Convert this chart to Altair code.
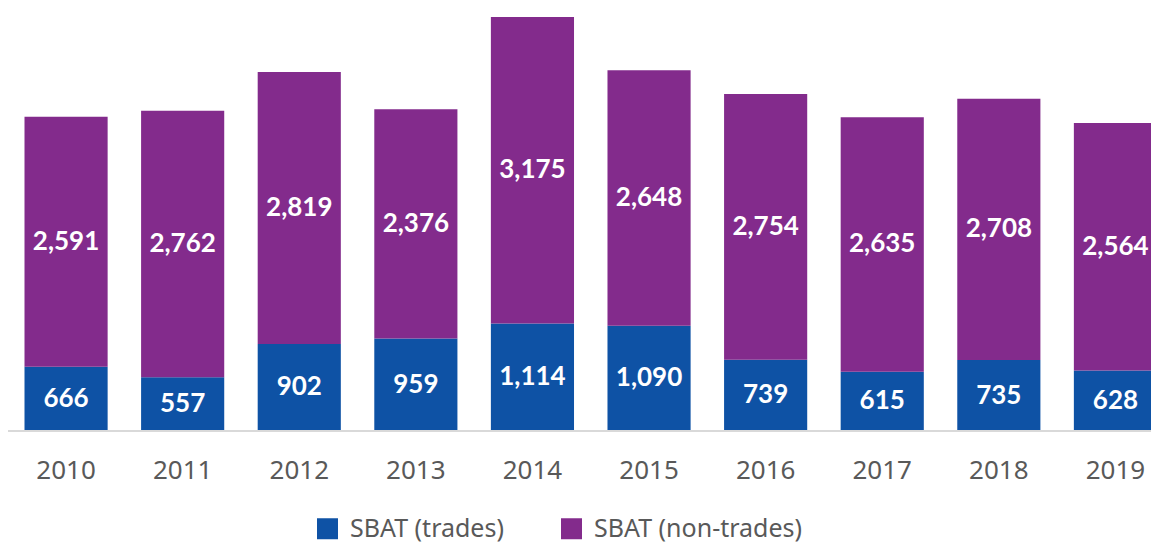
import altair as alt
import pandas as pd

years = ["2010", "2011", "2012", "2013", "2014", "2015", "2016", "2017", "2018", "2019"]
trades = [666, 557, 902, 959, 1114, 1090, 739, 615, 735, 628]
non_trades = [2591, 2762, 2819, 2376, 3175, 2648, 2754, 2635, 2708, 2564]
series = ["SBAT (trades)", "SBAT (non-trades)"]
colors = ["#0E52A5", "#832B8C"]

rows = []
for i, y in enumerate(years):
    rows.append({"year": y, "series": series[0], "ord": 0, "value": trades[i]})
    rows.append({"year": y, "series": series[1], "ord": 1, "value": non_trades[i]})
df = pd.DataFrame(rows)

W, H = 1143, 423

base = alt.Chart(df).transform_stack(
    stack="value", groupby=["year"], as_=["y0", "y1"], sort=[alt.SortField("ord", order="ascending")]
).transform_calculate(mid="(datum.y0 + datum.y1) / 2")

x = alt.X(
    "year:N",
    sort=years,
    title=None,
    scale=alt.Scale(range=[16.5, 1149], paddingInner=0.287, paddingOuter=0, align=0.5),
    axis=alt.Axis(
        labelAngle=0,
        ticks=False,
        domain=False,
        labelPadding=26,
        labelFontSize=26,
        labelColor="#595959",
        labelFont="Noto Sans",
    ),
)
yscale = alt.Scale(domain=[0, 4383], nice=False)

bars = base.mark_bar().encode(
    x=x,
    y=alt.Y("y0:Q", scale=yscale, axis=None, title=None),
    y2="y1:Q",
    color=alt.Color(
        "series:N",
        scale=alt.Scale(domain=series, range=colors),
        legend=alt.Legend(
            title=None,
            orient="none",
            direction="horizontal",
            legendX=307,
            legendY=508,
            symbolType="square",
            symbolSize=441,
            symbolStrokeWidth=0,
            labelFontSize=25,
            labelFont="Noto Sans",
            labelColor="#595959",
            labelOffset=10,
            columnPadding=55,
            padding=0,
            labelLimit=400,
        ),
    ),
)

labels = base.mark_text(
    color="white", font="Lato", fontWeight="bold", fontSize=26, baseline="middle", align="center"
).encode(
    x=alt.X("year:N", sort=years),
    y=alt.Y("mid:Q", scale=yscale),
    text=alt.Text("value:Q", format=",d"),
)

baseline = alt.Chart(df).mark_rule(color="#d9d9d9", strokeWidth=2).encode(
    x=alt.value(0), x2=alt.value(W), y=alt.value(H)
)

chart = (
    alt.layer(bars, baseline, labels)
    .properties(
        width=W,
        height=H,
        padding={"left": 0, "top": 0, "right": 0, "bottom": 114},
        autosize=alt.AutoSizeParams(type="none"),
    )
    .configure_view(stroke=None)
)

chart.save("out.html", embed_options={"renderer": "svg", "actions": False})
